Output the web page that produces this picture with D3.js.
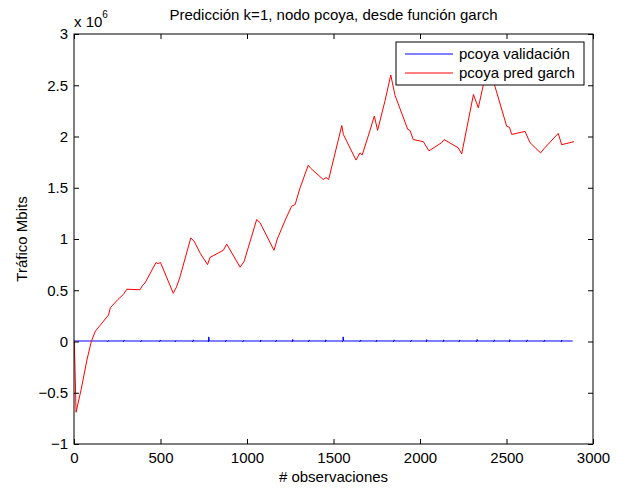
<!DOCTYPE html>
<html>
<head>
<meta charset="utf-8">
<script src="https://cdn.jsdelivr.net/npm/d3@7"></script>
<style>
  body { margin: 0; background: #fff; }
  text { font-family: "Liberation Sans", Arial, Helvetica, sans-serif; fill: #000; }
</style>
</head>
<body>
<svg id="chart" width="631" height="490"></svg>
<script>
// prediction series (red), values in units of 1e6 Mbits
const predObs = [0, 2, 12, 41, 76, 100, 123, 162, 200, 210, 254, 286, 305, 382, 397, 410, 474, 487, 500,
  574, 592, 611, 675, 694, 730, 772, 786, 863, 883, 960, 983, 1056, 1075, 1156, 1175, 1225, 1258, 1278,
  1305, 1354, 1368, 1441, 1457, 1472, 1548, 1557, 1630, 1653, 1666, 1711, 1736, 1755, 1798, 1831, 1856,
  1929, 1942, 1961, 2019, 2052, 2125, 2139, 2221, 2241, 2309, 2337, 2376, 2400, 2433, 2501, 2517, 2530,
  2607, 2636, 2697, 2716, 2799, 2819, 2890];
const predVal = [0, 0, -0.69, -0.47, -0.17, 0, 0.1, 0.18, 0.26, 0.33, 0.41, 0.46, 0.51, 0.505, 0.55, 0.57, 0.77, 0.76, 0.77,
  0.47, 0.53, 0.62, 1.01, 0.98, 0.86, 0.75, 0.82, 0.89, 0.95, 0.725, 0.78, 1.19, 1.16, 0.89, 1.0, 1.2, 1.32, 1.335,
  1.49, 1.72, 1.69, 1.58, 1.6, 1.58, 2.107, 2.02, 1.77, 1.84, 1.82, 2.06, 2.2, 2.06, 2.35, 2.6, 2.4,
  2.07, 2.06, 1.97, 1.95, 1.86, 1.94, 1.97, 1.89, 1.83, 2.41, 2.28, 2.58, 2.75, 2.49, 2.1, 2.09, 2.02,
  2.05, 1.94, 1.84, 1.88, 2.03, 1.92, 1.95];

// validation series (blue): flat near zero with small daily spikes
const validBase = 0.005;
const validEnd = 2883;
const validSpikeObs = [198, 289, 389, 498, 589, 689, 779, 879, 979, 1079, 1169, 1264, 1359, 1455, 1556,
  1655, 1749, 1850, 1949, 2039, 2136, 2229, 2330, 2429, 2519, 2619, 2719, 2819];
const validSpikeVal = [0.012, 0.014, 0.012, 0.015, 0.012, 0.016, 0.045, 0.014, 0.012, 0.015, 0.014, 0.02, 0.015, 0.016, 0.045,
  0.015, 0.014, 0.016, 0.014, 0.018, 0.016, 0.015, 0.02, 0.016, 0.018, 0.016, 0.015, 0.014];

const xTicks = [0, 500, 1000, 1500, 2000, 2500, 3000];
const yTicks = [-1, -0.5, 0, 0.5, 1, 1.5, 2, 2.5, 3];
const legendLabels = ["pcoya validación", "pcoya pred garch"];
const lineColors = ["#0000ff", "#ff0000"];

const svg = d3.select("#chart");
const x = d3.scaleLinear().domain([0, 3000]).range([74, 593]);
const y = d3.scaleLinear().domain([-1, 3]).range([444, 34]);
const fmt = d3.format("~g");

// build line data
const predData = predObs.map((o, i) => [o, predVal[i]]);
const validData = [[0, validBase]];
validSpikeObs.forEach((s, i) => {
  validData.push([s - 5, validBase], [s - 2, -0.004], [s, validSpikeVal[i]], [s + 3, validBase]);
});
validData.push([validEnd, validBase]);

const line = d3.line().x(d => x(d[0])).y(d => y(d[1]));

svg.append("path").datum(validData)
  .attr("d", line).attr("fill", "none").attr("stroke", lineColors[0]).attr("stroke-width", 1);
svg.append("path").datum(predData)
  .attr("d", line).attr("fill", "none").attr("stroke", lineColors[1]).attr("stroke-width", 1);

// axes, ticks pointing inward (box style)
const gx = svg.append("g").attr("transform", `translate(0,${y(-1)})`)
  .call(d3.axisBottom(x).tickValues(xTicks).tickFormat(fmt).tickSizeInner(-5).tickSizeOuter(0).tickPadding(8));
const gxt = svg.append("g").attr("transform", `translate(0,${y(3)})`)
  .call(d3.axisTop(x).tickValues(xTicks).tickFormat("").tickSizeInner(-5).tickSizeOuter(0));
const gy = svg.append("g").attr("transform", `translate(${x(0)},0)`)
  .call(d3.axisLeft(y).tickValues(yTicks).tickFormat(fmt).tickSizeInner(-5).tickSizeOuter(0).tickPadding(6));
const gyr = svg.append("g").attr("transform", `translate(${x(3000)},0)`)
  .call(d3.axisRight(y).tickValues(yTicks).tickFormat("").tickSizeInner(-5).tickSizeOuter(0));

[gx, gxt, gy, gyr].forEach(g => {
  g.select(".domain").remove();
  g.selectAll("line").attr("stroke", "#000");
  g.selectAll("text").style("font-size", "15px").attr("fill", "#000");
});

svg.append("rect")
  .attr("x", x(0)).attr("y", y(3))
  .attr("width", x(3000) - x(0)).attr("height", y(-1) - y(3))
  .attr("fill", "none").attr("stroke", "#000").attr("stroke-width", 1);

// exponent label
const expo = svg.append("text").attr("x", 74).attr("y", 27).style("font-size", "15px");
expo.append("tspan").text("x 10");
expo.append("tspan").attr("dy", -9).style("font-size", "10px").text("6");

// title and axis labels
svg.append("text").attr("x", (x(0) + x(3000)) / 2).attr("y", 20)
  .attr("text-anchor", "middle").style("font-size", "15px")
  .text("Predicción k=1, nodo pcoya, desde función garch");
svg.append("text").attr("x", (x(0) + x(3000)) / 2).attr("y", 482)
  .attr("text-anchor", "middle").style("font-size", "15px")
  .text("# observaciones");
svg.append("text").attr("transform", `translate(27,${(y(-1) + y(3)) / 2}) rotate(-90)`)
  .attr("text-anchor", "middle").style("font-size", "15px")
  .text("Tráfico Mbits");

// legend
const lg = svg.append("g").attr("transform", "translate(396,42)");
lg.append("rect").attr("width", 188).attr("height", 43)
  .attr("fill", "#fff").attr("stroke", "#000").attr("stroke-width", 1);
legendLabels.forEach((lab, i) => {
  const ly = 12 + i * 19;
  lg.append("line").attr("x1", 9).attr("x2", 57).attr("y1", ly).attr("y2", ly)
    .attr("stroke", lineColors[i]).attr("stroke-width", 1);
  lg.append("text").attr("x", 63).attr("y", ly + 5).style("font-size", "15px").text(lab);
});
</script>
</body>
</html>
